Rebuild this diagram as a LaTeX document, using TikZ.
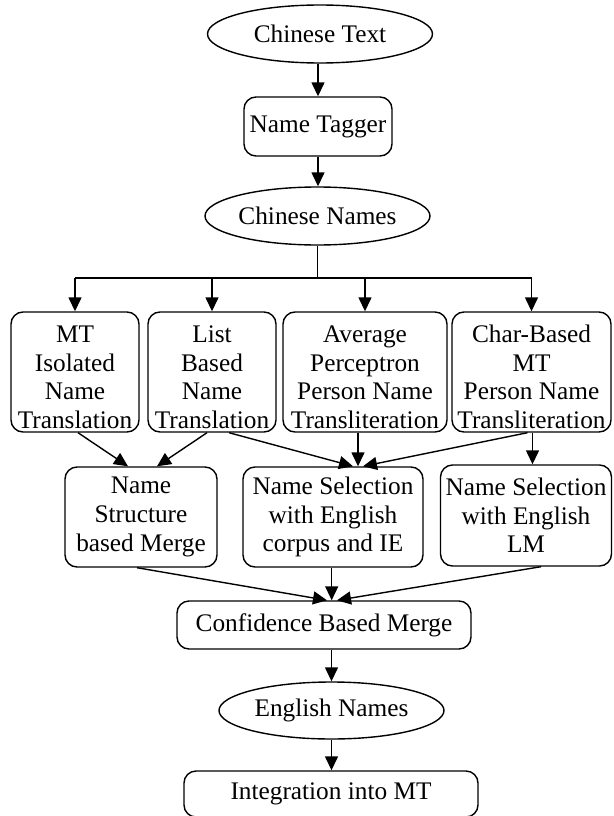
\documentclass[tikz,border=0pt]{standalone}
\usepackage{fontspec}
\setmainfont{Liberation Serif}
\usetikzlibrary{shapes.geometric,arrows.meta,calc}
\newcommand{\lowr}{\rule{0pt}{27pt}}
\begin{document}
\begin{tikzpicture}[x=1pt,y=-1pt,
  txt/.style={font=\fontsize{25.3pt}{28.6pt}\selectfont, align=center, inner sep=0pt},
  box/.style={txt, draw, line width=1.4pt, rounded corners=12pt},
  tall/.style={box, minimum height=120pt},
  oval/.style={txt, draw, line width=1.4pt, ellipse, minimum width=225pt, minimum height=58pt},
  arr/.style={line width=1.4pt, -{Triangle[length=14pt,width=13pt]}},
  ln/.style={line width=1.4pt}]
\useasboundingbox (0,0) rectangle (613,816);
\clip (0,0) rectangle (613,816);

\node[oval] (ct) at (320,34) {Chinese Text};
\node[box, minimum width=148pt, minimum height=59pt] (nt) at (318,126.5) {Name Tagger};
\node[oval] (cn) at (317.5,216) {Chinese Names};

\node[tall, minimum width=128pt] (mt) at (75,372) {\lowr MT\\Isolated\\Name\\Translation};
\node[tall, minimum width=128pt] (list) at (212,372) {\lowr List\\Based\\Name\\Translation};
\node[tall, minimum width=164pt] (avg) at (365,372) {\lowr Average\\Perceptron\\Person Name\\Transliteration};
\node[tall, minimum width=159pt] (chr) at (531.5,372) {\lowr Char-Based\\MT\\Person Name\\Transliteration};

\node[box, minimum width=152pt, minimum height=100pt] (struct) at (141,517) {Name\\Structure\\based Merge};
\node[box, minimum width=180pt, minimum height=100pt] (corpus) at (333,517) {Name Selection\\with English\\corpus and IE};
\node[box, minimum width=171pt, minimum height=101pt] (lm) at (526,515.5) {Name Selection\\with English\\LM};

\node[box, minimum width=294pt, minimum height=48pt] (conf) at (324,625) {Confidence Based Merge};
\node[oval, minimum height=57pt] (eng) at (331.5,710.5) {English Names};
\node[box, minimum width=294pt, minimum height=46pt] (integ) at (331,794) {Integration into MT};

\coordinate (busY) at (0,278);

\draw[arr] (ct.south -| nt.north) -- (nt.north);
\draw[arr] (nt.south) -- (cn.north -| nt.south);
\draw[ln] (cn.south) -- (cn.south |- busY);
\draw[ln] (mt.north |- busY) -- (chr.north |- busY);
\draw[arr] (mt.north |- busY) -- (mt.north);
\draw[arr] (list.north |- busY) -- (list.north);
\draw[arr] (avg.north |- busY) -- (avg.north);
\draw[arr] (chr.north |- busY) -- (chr.north);

\draw[arr] ($(mt.south)+(3,0)$) -- ($(struct.north)+(-13,0)$);
\draw[arr] ($(list.south)+(-5,0)$) -- ($(struct.north)+(16,0)$);
\draw[arr] ($(list.south)+(17,0)$) -- ($(corpus.north)+(20,0)$);
\draw[arr] ($(avg.south)+(-7,0)$) -- ($(corpus.north)+(25,0)$);
\draw[arr] ($(chr.south)+(-4,0)$) -- ($(corpus.north)+(30,0)$);
\draw[arr] ($(chr.south)+(1,0)$) -- ($(lm.north)+(6.5,0)$);

\draw[arr] ($(struct.south)+(-4,0)$) -- ($(conf.north)+(3,0)$);
\draw[arr] ($(corpus.south)+(-1.3,0)$) -- ($(conf.north)+(7.7,0)$);
\draw[arr] ($(lm.south)+(15,0)$) -- ($(conf.north)+(13,0)$);

\draw[arr] (eng.north |- conf.south) -- (eng.north);
\draw[arr] (eng.south) -- (integ.north -| eng.south);
\end{tikzpicture}
\end{document}
